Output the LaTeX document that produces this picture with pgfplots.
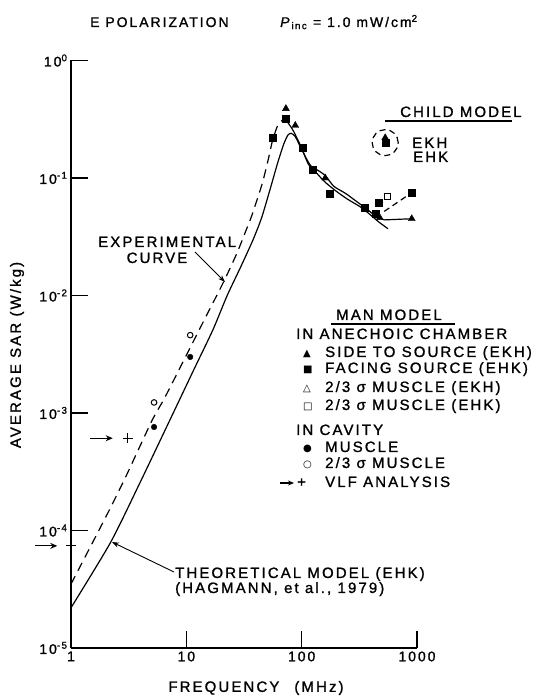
\documentclass[border=0pt]{standalone}
\usepackage{fontspec}
\setmainfont{Liberation Sans}
\newfontfamily\sym{DejaVu Sans}
\newfontfamily\lab[LetterSpace=14,FakeBold=1.2]{Liberation Sans}
\usepackage{pgfplots}
\pgfplotsset{compat=1.18}
\usetikzlibrary{arrows.meta}
\newcommand\lt{\lab\fontsize{15}{15}\selectfont}
\newcommand\sm{\sym\fontsize{10}{10}\selectfont}
\begin{document}
\begin{tikzpicture}
\useasboundingbox (-71pt,-50pt) rectangle (468pt,648pt);
\begin{axis}[
  at={(0pt,0pt)}, anchor=south west,
  scale only axis, width=346pt, height=587.5pt,
  xmode=log, ymode=log, xmin=1, xmax=1000, ymin=1e-5, ymax=1,
  axis lines=left, axis line style={-, line width=1.8pt},
  tick align=inside, major tick length=17pt,
  tick style={line width=1.5pt, black},
  xminorticks=false, yminorticks=false,
  xtick={1,10,100,1000}, xticklabels={1,10,100,1000},
  ytick={1e-5,1e-4,1e-3,1e-2,1e-1,1},
  yticklabels={10\textsuperscript{-5},10\textsuperscript{-4},10\textsuperscript{-3},10\textsuperscript{-2},10\textsuperscript{-1},10\textsuperscript{0}},
  tick label style={font=\lab\fontsize{14}{14}\selectfont},
  clip=false,
]
% theoretical model (solid)
\addplot[black, line width=1.2pt, smooth, tension=0.4] coordinates {
 (1,2.2e-5) (2.2,7.9e-5) (4,2.6e-4) (7.7,1.0e-3) (12,2.5e-3) (17,5.1e-3)
 (22.6,1.0e-2) (30,1.8e-2) (38,3.0e-2) (45,4.6e-2) (53,7.9e-2) (62,0.135) (70,0.195)
 (76,0.232) (81,0.24) (88,0.225) (100,0.175) (115,0.135) (135,0.11)
 (160,0.092) (200,0.077) (250,0.066) (330,0.056) (400,0.048) (470,0.042) (560,0.037)};
% experimental curve (dashed)
\addplot[black, line width=1.2pt, dash pattern=on 9pt off 6pt, smooth, tension=0.4] coordinates {
 (1,3.5e-5) (2,1.3e-4) (3,2.9e-4) (5,8.5e-4) (6.5,1.35e-3) (10,3.1e-3)
 (15,6.8e-3) (21,1.3e-2) (27.5,2.3e-2) (33,3.6e-2) (37,4.8e-2) (42,7.0e-2) (46,0.093)
 (51,0.14) (56,0.21) (62,0.28) (68,0.31)};
\addplot[black, line width=1.2pt, smooth, tension=0.4] coordinates {
 (68,0.31) (75,0.3) (85,0.25) (100,0.18) (115,0.13) (135,0.118) (160,0.105)
 (190,0.085) (240,0.074) (300,0.063) (380,0.053) (450,0.046)};
% side to source (EKH)
\addplot[black, only marks, mark=triangle*, mark size=4pt] coordinates {
 (73,0.39) (88,0.28) (160,0.10) (475,0.046) (900,0.045)};
\addplot[black, line width=1.2pt] coordinates {(440,0.047) (520,0.044) (900,0.045)};
% facing source (EHK)
\addplot[black, only marks, mark=square*, mark size=3.5pt] coordinates {
 (56,0.22) (72,0.32) (103,0.18) (125,0.117) (176,0.074) (354,0.056) (440,0.05) (468,0.062) (900,0.075)};
\addplot[black, line width=1.2pt, dash pattern=on 6pt off 4pt] coordinates {(520,0.052) (900,0.075)};
% 2/3 muscle (EHK)
\addplot[black, only marks, mark=square, mark size=3pt, line width=1pt] coordinates {(550,0.069)};
% cavity muscle
\addplot[black, only marks, mark=*, mark size=2.8pt] coordinates {(5.25,7.6e-4) (10.8,3.0e-3)};
% cavity 2/3 muscle
\addplot[black, only marks, mark=o, mark size=2.8pt, line width=1pt] coordinates {(5.25,1.23e-3) (10.8,4.6e-3)};
% VLF analysis
\addplot[black, only marks, mark=+, mark size=5pt, line width=1.2pt] coordinates {(3.1,6.1e-4) (1,7.4e-5)};
\addplot[black, line width=1.2pt, -{Stealth[length=7pt,width=6pt]}] coordinates {(1.46,6.1e-4) (2.3,6.1e-4)};
\addplot[black, line width=1.2pt, -{Stealth[length=7pt,width=6pt]}] coordinates {(0.49,7.4e-5) (0.76,7.4e-5)};
% child model
\addplot[black, only marks, mark=square*, mark size=3.5pt] coordinates {(530,0.2)};
\addplot[black, only marks, mark=triangle*, mark size=4pt] coordinates {(530,0.22)};
\draw[black, line width=1.2pt, dash pattern=on 6pt off 4pt] (axis cs:530,0.2) circle[radius=13pt];
\end{axis}
% titles
\node[anchor=base west, inner sep=0pt] at (19pt,621pt) {\lab\fontsize{14}{14}\selectfont E POLARIZATION};
\node[anchor=base west, inner sep=0pt] at (209pt,621pt) {\lab\fontsize{14}{14}\selectfont \textit{P}\textsubscript{inc} = 1.0 mW/cm\textsuperscript{2}};
% axis labels
\node[rotate=90, inner sep=0pt] at (-54pt,293pt) {\lt AVERAGE SAR (W/kg)};
\node[inner sep=0pt] at (185pt,-40pt) {\lt FREQUENCY\quad (MHz)};
% child model
\node[anchor=base west, inner sep=0pt] at (329pt,531pt) {\lt CHILD MODEL};
\draw[line width=1.2pt] (314pt,527pt) -- (441pt,527pt);
\node[anchor=base west, inner sep=0pt] at (341pt,500pt) {\lt EKH};
\node[anchor=base west, inner sep=0pt] at (342pt,486pt) {\lt EHK};
% man model legend
\node[anchor=base west, inner sep=0pt] at (265pt,328pt) {\lt MAN MODEL};
\draw[line width=1.2pt] (260pt,324pt) -- (384pt,324pt);
\node[anchor=base west, inner sep=0pt] at (225pt,309pt) {\lt IN ANECHOIC CHAMBER};
\node[anchor=base west, inner sep=0pt] at (232pt,291pt) {\sm ▲};
\node[anchor=base west, inner sep=0pt] at (254pt,291pt) {\lt SIDE TO SOURCE (EKH)};
\node[anchor=base west, inner sep=0pt] at (232pt,275pt) {\sm ■};
\node[anchor=base west, inner sep=0pt] at (254pt,275pt) {\lt FACING SOURCE (EHK)};
\node[anchor=base west, inner sep=0pt] at (232pt,256pt) {\sm △};
\node[anchor=base west, inner sep=0pt] at (254pt,256pt) {\lt 2/3 σ MUSCLE (EKH)};
\node[anchor=base west, inner sep=0pt] at (232pt,238pt) {\sm □};
\node[anchor=base west, inner sep=0pt] at (254pt,238pt) {\lt 2/3 σ MUSCLE (EHK)};
\node[anchor=base west, inner sep=0pt] at (225pt,213pt) {\lt IN CAVITY};
\node[anchor=base west, inner sep=0pt] at (232pt,196pt) {\sm ●};
\node[anchor=base west, inner sep=0pt] at (254pt,196pt) {\lt MUSCLE};
\node[anchor=base west, inner sep=0pt] at (232pt,180pt) {\sm ○};
\node[anchor=base west, inner sep=0pt] at (254pt,180pt) {\lt 2/3 σ MUSCLE};
\draw[line width=1.2pt, -{Stealth[length=6pt,width=5pt]}] (209pt,165pt) -- (223pt,165pt);
\node[anchor=base west, inner sep=0pt] at (226pt,161pt) {\lt +};
\node[anchor=base west, inner sep=0pt] at (254pt,161pt) {\lt VLF ANALYSIS};
% annotations
\node[anchor=base west, inner sep=0pt] at (27pt,401pt) {\lt EXPERIMENTAL};
\node[anchor=base, inner sep=0pt] at (86pt,385pt) {\lt CURVE};
\draw[line width=0.9pt, -{Stealth[length=7pt,width=5pt]}] (124pt,396pt) -- (154pt,366pt);
\node[anchor=base west, inner sep=0pt] at (104pt,70pt) {\lt THEORETICAL MODEL (EHK)};
\node[anchor=base west, inner sep=0pt] at (104pt,55pt) {\lt (HAGMANN, et al., 1979)};
\draw[line width=0.9pt, -{Stealth[length=7pt,width=5pt]}] (103pt,76pt) -- (41pt,106pt);
\end{tikzpicture}
\end{document}
